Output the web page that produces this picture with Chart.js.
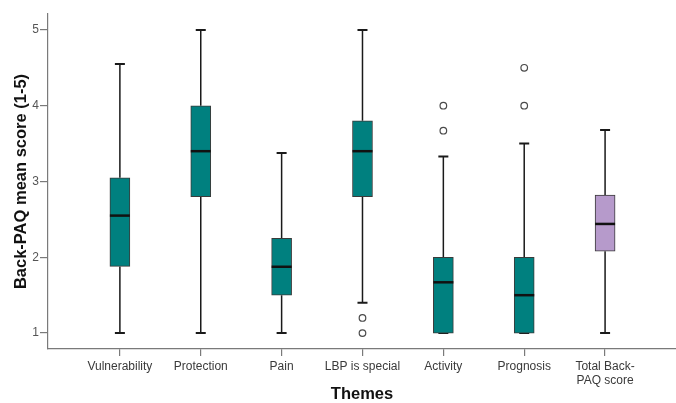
<!DOCTYPE html>
<html>
<head>
<meta charset="utf-8">
<script src="https://cdn.jsdelivr.net/npm/chart.js@4/dist/chart.umd.min.js"></script>
<style>
  html, body { margin: 0; padding: 0; background: #fff; }
  #wrap { width: 676px; height: 403px; }
</style>
</head>
<body>
<div id="wrap"><canvas id="boxChart" width="676" height="403"></canvas></div>
<script>
// Box plot data
const categories = ['Vulnerability', 'Protection', 'Pain', 'LBP is special', 'Activity', 'Prognosis', ['Total Back-', 'PAQ score']];
const whiskerLow = [1, 1, 1, 1.4, 1, 1, 1];
const q1 = [1.88, 2.8, 1.5, 2.8, 1, 1, 2.08];
const medians = [2.55, 3.4, 1.875, 3.4, 1.67, 1.5, 2.44];
const q3 = [3.05, 4, 2.25, 3.8, 2, 2, 2.82];
const whiskerHigh = [4.55, 5, 3.375, 5, 3.33, 3.5, 3.68];
const outliers = [[], [], [], [1.2, 1.0], [3.67, 4.0], [4.0, 4.5], []];
const yTicks = [1, 2, 3, 4, 5];
const boxColors = ['#00807f', '#00807f', '#00807f', '#00807f', '#00807f', '#00807f', '#b69acb'];

const fontFamily = '"Liberation Sans", Arial, sans-serif';

// whiskers + caps behind the boxes, medians on top
const boxPlotLines = {
    id: 'boxPlotLines',
    beforeDatasetsDraw(chart) {
        const { ctx, scales: { x, y } } = chart;
        ctx.save();
        ctx.strokeStyle = '#1a1a1a';
        categories.forEach((c, i) => {
            const px = x.getPixelForValue(i);
            const capHalf = 5;
            ctx.lineWidth = 1.5;
            ctx.beginPath();
            ctx.moveTo(px, y.getPixelForValue(q3[i]));
            ctx.lineTo(px, y.getPixelForValue(whiskerHigh[i]));
            ctx.moveTo(px, y.getPixelForValue(q1[i]));
            ctx.lineTo(px, y.getPixelForValue(whiskerLow[i]));
            ctx.stroke();
            ctx.lineWidth = 2;
            ctx.beginPath();
            ctx.moveTo(px - capHalf, y.getPixelForValue(whiskerHigh[i]));
            ctx.lineTo(px + capHalf, y.getPixelForValue(whiskerHigh[i]));
            ctx.moveTo(px - capHalf, y.getPixelForValue(whiskerLow[i]));
            ctx.lineTo(px + capHalf, y.getPixelForValue(whiskerLow[i]));
            ctx.stroke();
        });
        ctx.restore();
    },
    afterDatasetsDraw(chart) {
        const { ctx, scales: { x, y } } = chart;
        ctx.save();
        ctx.strokeStyle = '#111';
        ctx.lineWidth = 2.5;
        medians.forEach((m, i) => {
            const px = x.getPixelForValue(i);
            const py = y.getPixelForValue(m);
            ctx.beginPath();
            ctx.moveTo(px - 10, py);
            ctx.lineTo(px + 10, py);
            ctx.stroke();
        });
        ctx.restore();
    }
};

const outlierPoints = [];
outliers.forEach((list, i) => list.forEach(v => outlierPoints.push({ x: i, y: v })));

const ctx = document.getElementById('boxChart').getContext('2d');
new Chart(ctx, {
    type: 'scatter',
    data: {
        datasets: [{
            type: 'bar',
            label: 'IQR',
            data: categories.map((c, i) => ({ x: i, y: [q1[i], q3[i]] })),
            backgroundColor: boxColors,
            borderColor: '#3a3a3a',
            borderWidth: 1,
            borderSkipped: false,
            barThickness: 20
        }, {
            label: 'Outliers',
            data: outlierPoints,
            pointStyle: 'circle',
            pointRadius: 3.3,
            pointBackgroundColor: '#fff',
            pointBorderColor: '#4a4a4a',
            pointBorderWidth: 1.2
        }]
    },
    plugins: [boxPlotLines],
    options: {
        responsive: false,
        animation: false,
        layout: { autoPadding: false, padding: { top: 14, right: 0, left: 0, bottom: 0 } },
        plugins: {
            legend: { display: false },
            tooltip: { enabled: false }
        },
        scales: {
            x: {
                type: 'linear',
                min: -0.889,
                max: 6.877,
                offset: false,
                afterBuildTicks: (scale) => { scale.ticks = categories.map((c, i) => ({ value: i })); },
                afterFit: (scale) => {
                    scale.height = 54;
                    scale.paddingLeft = 0;
                    scale.paddingRight = 0;
                },
                grid: { offset: false, drawOnChartArea: false, drawTicks: true, tickLength: 7, color: '#7a7a7a', lineWidth: 1.2 },
                border: { display: true, color: '#7a7a7a', width: 1.2 },
                ticks: {
                    autoSkip: false,
                    maxRotation: 0,
                    padding: 3,
                    color: '#3a3a3a',
                    font: { family: fontFamily, size: 12 },
                    callback: (v) => categories[v]
                },
                title: {
                    display: true,
                    text: 'Themes',
                    color: '#111',
                    font: { family: fontFamily, size: 16.5, weight: 'bold' },
                    padding: { top: 0, bottom: -1 }
                }
            },
            y: {
                min: 0.79,
                max: 5.21,
                afterBuildTicks: (scale) => { scale.ticks = yTicks.map(v => ({ value: v })); },
                afterFit: (scale) => {
                    scale.width = 48;
                    scale.paddingTop = 0;
                    scale.paddingBottom = 0;
                },
                grid: { drawOnChartArea: false, drawTicks: true, tickLength: 8, color: '#7a7a7a', lineWidth: 1.2 },
                border: { display: true, color: '#7a7a7a', width: 1.2 },
                ticks: {
                    padding: 1,
                    color: '#555',
                    font: { family: fontFamily, size: 12 }
                },
                title: {
                    display: true,
                    text: 'Back-PAQ mean score (1-5)',
                    color: '#111',
                    font: { family: fontFamily, size: 16.5, weight: 'bold' },
                    padding: { top: 12, bottom: 0 }
                }
            }
        }
    }
});
</script>
</body>
</html>
